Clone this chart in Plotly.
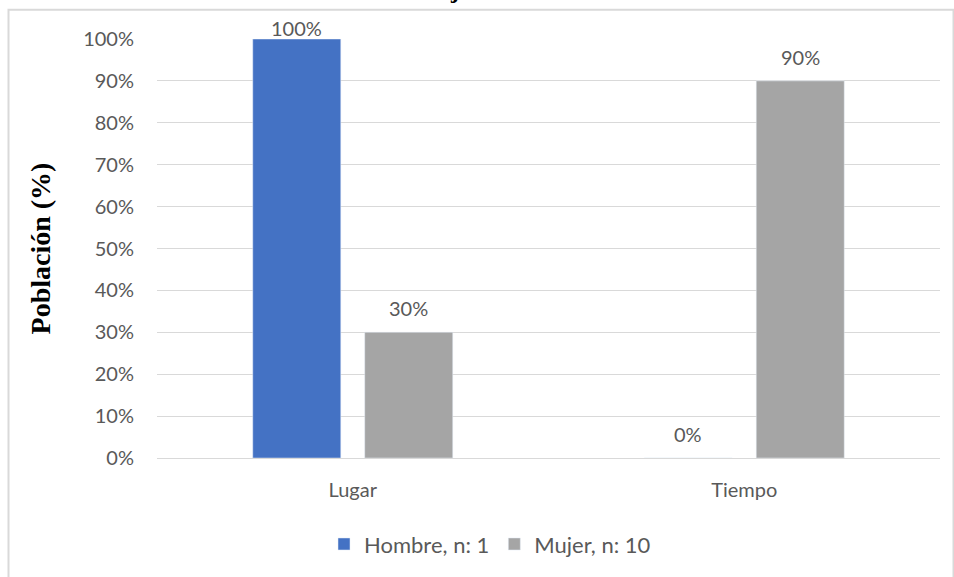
import plotly.graph_objects as go

categories = ["Lugar", "Tiempo"]
hombre = [1.00, 0.00]
mujer = [0.30, 0.90]
series_names = ["Hombre, n: 1", "Mujer, n: 10"]
y_ticks = [0, 0.1, 0.2, 0.3, 0.4, 0.5, 0.6, 0.7, 0.8, 0.9, 1.0]
y_title = "Población (%)"
title_text = "Viajeros"

W, H = 954, 577
L, R, T, B = 157, 14, 39, 115
pw, ph = W - L - R, H - T - B

def px_x(p):
    return (p - L) / pw

def px_y(p):
    return (H - B - p) / ph

font_main = "Lato, 'Open Sans', sans-serif"
txt_col = "#595959"
serif = "'Liberation Serif', 'Times New Roman', serif"

fig = go.Figure()
fig.add_trace(go.Bar(x=categories, y=hombre, name=series_names[0], marker_color="#4472C4"))
fig.add_trace(go.Bar(x=categories, y=mujer, name=series_names[1], marker_color="#A5A5A5"))

annotations = []
for vals, shift in ((hombre, -56), (mujer, 56)):
    for cat, v in zip(categories, vals):
        annotations.append(dict(
            x=cat, y=v, xref="x", yref="y", xshift=shift,
            yshift=(24 if v < 0.95 else 11), yanchor="middle", xanchor="center",
            text=f"{v*100:.0f}%", showarrow=False,
            font=dict(size=20, color=txt_col, family=font_main)))

annotations.append(dict(text=f"<b>{title_text}</b>", xref="paper", yref="paper",
                        x=px_x(458), y=px_y(9), yshift=5, xanchor="center", yanchor="bottom",
                        showarrow=False, borderpad=0,
                        font=dict(family=serif, size=24, color="black")))

fig.update_layout(
    width=W, height=H,
    margin=dict(l=L, r=R, t=T, b=B),
    paper_bgcolor="white", plot_bgcolor="white",
    barmode="group", bargap=0.428, bargroupgap=0.214,
    font=dict(family=font_main, size=20, color=txt_col),
    showlegend=True,
    legend=dict(orientation="h", x=px_x(490), xanchor="center", y=px_y(549), yanchor="middle",
                font=dict(size=22, color=txt_col, family=font_main),
                traceorder="normal"),
    xaxis=dict(showgrid=False, showline=True, linecolor="#d9d9d9", linewidth=1,
               ticks="", ticklabelstandoff=14, tickfont=dict(size=20, color=txt_col)),
    yaxis=dict(range=[0, 1], tickvals=y_ticks, tickformat=".0%", showgrid=True,
               gridcolor="#d9d9d9", gridwidth=1, zeroline=False, showline=False,
               ticks="", ticklabelstandoff=22, tickfont=dict(size=20, color=txt_col),
               title=dict(text=f"<b>{y_title}</b>", standoff=24,
                          font=dict(family=serif, size=28, color="black"))),
    shapes=[dict(type="rect", xref="paper", yref="paper",
                 x0=px_x(8.5), x1=px_x(953.5), y0=px_y(600), y1=px_y(9.5),
                 line=dict(color="#d9d9d9", width=2), fillcolor="rgba(0,0,0,0)", layer="below")],
    annotations=annotations,
)

fig.write_html("out.html")
